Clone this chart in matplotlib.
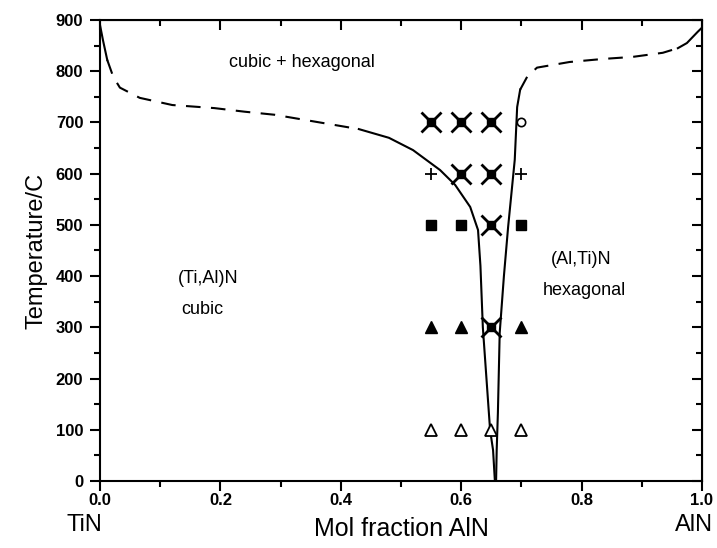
import matplotlib
matplotlib.use('Agg')
import matplotlib.pyplot as plt
from matplotlib.ticker import MultipleLocator, FormatStrFormatter

# ---------------------------------------------------
# phase boundaries (mol fraction AlN, temperature / C)
left_solid_top_x = [0.0, 0.005, 0.012]
left_solid_top_y = [890, 860, 822]
left_dash_x = [0.012, 0.022, 0.033, 0.066, 0.12, 0.19, 0.24, 0.29, 0.34, 0.39, 0.43]
left_dash_y = [822, 789, 768, 748, 734, 728, 721, 715, 705, 695, 687]
left_solid_x = [0.43, 0.48, 0.52, 0.565, 0.59, 0.615, 0.628, 0.632, 0.636, 0.642, 0.648, 0.653, 0.656]
left_solid_y = [687, 670, 646, 607, 578, 535, 490, 420, 300, 200, 100, 60, 0]

right_solid_x = [0.658, 0.659, 0.661, 0.664, 0.671, 0.678, 0.689, 0.693, 0.698]
right_solid_y = [0, 60, 133, 289, 400, 496, 627, 730, 764]
right_dash_x = [0.698, 0.71, 0.726, 0.78, 0.836, 0.885, 0.935, 0.96]
right_dash_y = [764, 790, 807, 818, 824, 828, 836, 845]
right_solid_top_x = [0.96, 0.975, 0.993, 1.0]
right_solid_top_y = [845, 855, 877, 885]

# experimental points
cross_x = [0.55, 0.6, 0.65, 0.6, 0.65, 0.65, 0.65]
cross_y = [700, 700, 700, 600, 600, 500, 300]
circle_x = [0.7]
circle_y = [700]
plus_x = [0.55, 0.7]
plus_y = [600, 600]
square_x = [0.55, 0.6, 0.7]
square_y = [500, 500, 500]
tri_full_x = [0.55, 0.6, 0.7]
tri_full_y = [300, 300, 300]
tri_open_x = [0.55, 0.6, 0.65, 0.7]
tri_open_y = [100, 100, 100, 100]

# ---------------------------------------------------

plt.rcParams['font.family'] = ['Liberation Sans', 'DejaVu Sans']

fig = plt.figure(figsize=(7.17, 5.48), dpi=100)
ax = fig.add_axes([0.1395, 0.1223, 0.8395, 0.8412])

lw = 1.5
ax.plot(left_solid_top_x, left_solid_top_y, 'k-', lw=lw)
l, = ax.plot(left_dash_x, left_dash_y, 'k-', lw=lw)
l.set_dashes([7, 5])
ax.plot(left_solid_x, left_solid_y, 'k-', lw=lw)
ax.plot(right_solid_x, right_solid_y, 'k-', lw=lw)
l, = ax.plot(right_dash_x, right_dash_y, 'k-', lw=lw)
l.set_dashes([7, 5])
ax.plot(right_solid_top_x, right_solid_top_y, 'k-', lw=lw)

# big crosses with a dark blob in the middle
ax.plot(cross_x, cross_y, ls='none', marker='x', ms=15, color='k', mew=2.0)
ax.plot(cross_x, cross_y, ls='none', marker='s', ms=6, color='k')
ax.plot(circle_x, circle_y, ls='none', marker='o', ms=6, mfc='white', mec='k', mew=1.2)
ax.plot(plus_x, plus_y, ls='none', marker='+', ms=9, color='k', mew=1.3)
ax.plot(square_x, square_y, ls='none', marker='s', ms=7, color='k')
ax.plot(tri_full_x, tri_full_y, ls='none', marker='^', ms=9, color='k')
ax.plot(tri_open_x, tri_open_y, ls='none', marker='^', ms=8, mfc='white', mec='k', mew=1.3)

ax.set_xlim(0, 1.0)
ax.set_ylim(0, 900)
ax.xaxis.set_major_locator(MultipleLocator(0.2))
ax.xaxis.set_minor_locator(MultipleLocator(0.1))
ax.xaxis.set_major_formatter(FormatStrFormatter('%.1f'))
ax.yaxis.set_major_locator(MultipleLocator(100))
ax.yaxis.set_minor_locator(MultipleLocator(50))
ax.tick_params(which='both', direction='out', top=False, right=False, labelsize=12, width=1.5)
ax.tick_params(which='major', length=7)
ax.tick_params(which='minor', length=4)
ax.tick_params(axis='y', pad=5)
ax.tick_params(axis='x', pad=2)
for lab in ax.get_xticklabels() + ax.get_yticklabels():
    lab.set_fontweight('bold')

# inward ticks on the top and right
ax2 = ax.secondary_xaxis('top')
ax2.xaxis.set_major_locator(MultipleLocator(0.2))
ax2.xaxis.set_minor_locator(MultipleLocator(0.1))
ax2.tick_params(which='both', direction='in', labeltop=False, width=1.5)
ax2.tick_params(which='major', length=7)
ax2.tick_params(which='minor', length=4)
ax3 = ax.secondary_yaxis('right')
ax3.yaxis.set_major_locator(MultipleLocator(100))
ax3.yaxis.set_minor_locator(MultipleLocator(50))
ax3.tick_params(which='both', direction='in', labelright=False, width=1.5)
ax3.tick_params(which='major', length=7)
ax3.tick_params(which='minor', length=4)

for s in ax.spines.values():
    s.set_linewidth(1.5)

ax.set_ylabel('Temperature/C', fontsize=17, labelpad=6)
ax.set_xlabel('Mol fraction AlN', fontsize=18, labelpad=6)
fig.text(0.118, 0.042, 'TiN', fontsize=17, ha='center', va='center')
fig.text(0.968, 0.042, 'AlN', fontsize=17, ha='center', va='center')

ax.text(0.335, 818, 'cubic + hexagonal', fontsize=13, ha='center', va='center')
ax.text(0.18, 395, '(Ti,Al)N', fontsize=13, ha='center', va='center')
ax.text(0.17, 335, 'cubic', fontsize=13, ha='center', va='center')
ax.text(0.80, 432, '(Al,Ti)N', fontsize=13, ha='center', va='center')
ax.text(0.805, 372, 'hexagonal', fontsize=13, ha='center', va='center')

plt.savefig('out.png', dpi=100)
